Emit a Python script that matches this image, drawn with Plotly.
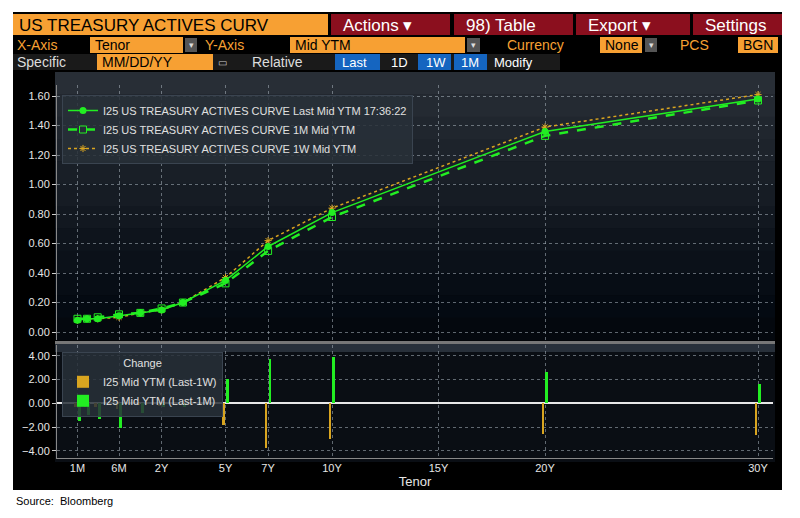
import numpy as np
import plotly.graph_objects as go

tenor_labels = ["1M", "2M", "3M", "6M", "1Y", "2Y", "3Y", "5Y", "7Y", "10Y", "20Y", "30Y"]
tenor_years = [1/12, 2/12, 3/12, 0.5, 1, 2, 3, 5, 7, 10, 20, 30]
last_ytm = [0.08, 0.09, 0.09, 0.11, 0.13, 0.15, 0.20, 0.35, 0.58, 0.81, 1.36, 1.58]
m1_ytm = [0.09, 0.09, 0.10, 0.12, 0.13, 0.16, 0.20, 0.33, 0.55, 0.78, 1.33, 1.57]
w1_ytm = [0.08, 0.09, 0.09, 0.10, 0.13, 0.15, 0.20, 0.37, 0.62, 0.84, 1.39, 1.61]
chg_1w = [-0.3, -0.3, -0.3, -0.5, -0.1, -0.2, -0.1, -1.8, -3.8, -3.0, -2.6, -2.7]
chg_1m = [-1.5, -1.0, -1.3, -2.1, -0.8, -0.3, -0.3, 2.0, 3.7, 3.9, 2.6, 1.6]
axis_tick_labels = ["1M", "6M", "2Y", "5Y", "7Y", "10Y", "15Y", "20Y", "30Y"]
axis_tick_years = [1/12, 0.5, 2, 5, 7, 10, 15, 20, 30]

# Bloomberg-style tenor scale: compressed short end, linear beyond 1Y
knot_t = [1/12, 2/12, 3/12, 0.5, 1, 40]
knot_u = [-1.95, -1.5, -1.0, 0.0, 1.0, 40.0]
def scale(t):
    return list(np.interp(t, knot_t, knot_u))

xs = scale(tenor_years)
tick_u = scale(axis_tick_years)

W, H = 800, 518
OFF = 8  # page body margin
def px(x): return (x - OFF) / W
def py(y): return 1 - (y - OFF) / H

GREEN = "#22ee22"
ORANGE = "#d9a520"
fig = go.Figure()

fig.add_trace(go.Scatter(x=xs, y=w1_ytm, mode="lines+markers", name="I25 US TREASURY ACTIVES CURVE 1W Mid YTM",
                         line=dict(color=ORANGE, width=1.5, dash="dot"), marker=dict(symbol="asterisk", size=6, color=ORANGE, line=dict(color=ORANGE, width=1)),
                         legend="legend", legendrank=3))
fig.add_trace(go.Scatter(x=xs, y=m1_ytm, mode="lines+markers", name="I25 US TREASURY ACTIVES CURVE 1M Mid YTM",
                         line=dict(color=GREEN, width=2.5, dash="dash"), marker=dict(symbol="square-open", size=7, color=GREEN),
                         legend="legend", legendrank=2))
fig.add_trace(go.Scatter(x=xs, y=last_ytm, mode="lines+markers", name="I25 US TREASURY ACTIVES CURVE Last Mid YTM 17:36:22",
                         line=dict(color=GREEN, width=1.5), marker=dict(symbol="circle", size=7, color=GREEN),
                         legend="legend", legendrank=1))

fig.add_trace(go.Bar(x=xs, y=chg_1w, name="I25 Mid YTM (Last-1W)", marker=dict(color=ORANGE, line=dict(width=0)),
                     width=0.13, offset=-0.16, xaxis="x2", yaxis="y2", legend="legend2", legendrank=1))
fig.add_trace(go.Bar(x=xs, y=chg_1m, name="I25 Mid YTM (Last-1M)", marker=dict(color=GREEN, line=dict(width=0)),
                     width=0.13, offset=0.02, xaxis="x2", yaxis="y2", legend="legend2", legendrank=2))

u0 = (57 - 119) / 21.3
u1 = (773 - 119) / 21.3
grid = dict(showgrid=True, gridcolor="rgba(170,180,190,0.55)", griddash="dot", gridwidth=1)
fontc = dict(family="Liberation Sans Narrow, Liberation Sans, Arial", color="#e6e6e6", size=11)

fig.update_layout(
    width=W, height=H, margin=dict(l=0, r=0, t=0, b=0),
    paper_bgcolor="white", plot_bgcolor="rgba(0,0,0,0)",
    barmode="overlay", bargap=0,
    font=fontc,
    xaxis=dict(domain=[px(57), px(773)], range=[u0, u1], anchor="y", tickvals=tick_u, showticklabels=False,
               ticks="", zeroline=False, showline=False, **grid),
    yaxis=dict(domain=[py(340), py(85)], range=[-0.054, 1.675], tickvals=[0, 0.2, 0.4, 0.6, 0.8, 1.0, 1.2, 1.4, 1.6],
               tickformat=".2f", ticks="outside", ticklen=4, tickcolor="#ccc", zeroline=False,
               showline=True, linecolor="#888", tickfont=dict(color="#e6e6e6", size=11), **grid),
    xaxis2=dict(domain=[px(57), px(773)], range=[u0, u1], anchor="y2", tickvals=tick_u, ticktext=axis_tick_labels,
                ticks="", tickfont=dict(color="#e6e6e6", size=11), zeroline=False, showline=True, linecolor="#888",
                title=dict(text="Tenor", font=dict(color="#e6e6e6", size=13), standoff=2), **grid),
    yaxis2=dict(domain=[py(458), py(345)], range=[-4.6, 4.9], tickvals=[-4, -2, 0, 2, 4], tickformat=".2f",
                ticks="outside", ticklen=4, tickcolor="#ccc", zeroline=True, zerolinecolor="#e8e8e8", zerolinewidth=2,
                showline=True, linecolor="#888", tickfont=dict(color="#e6e6e6", size=11), **grid),
    legend=dict(x=px(62), y=py(95), xanchor="left", yanchor="top", bgcolor="rgba(40,48,56,0.85)",
                bordercolor="#3a4450", borderwidth=1, font=dict(size=11, color="#e0e0e0"), tracegroupgap=0, itemwidth=30),
    legend2=dict(x=px(62), y=py(352), xanchor="left", yanchor="top", bgcolor="rgba(40,48,56,0.85)",
                 bordercolor="#3a4450", borderwidth=1, font=dict(size=11, color="#e0e0e0"),
                 title=dict(text="Change", side="top center", font=dict(size=11, color="#e0e0e0")), itemwidth=30),
    showlegend=True,
)

shapes = []
def rect(x0, y0, x1, y1, color, layer="below", line=None):
    shapes.append(dict(type="rect", xref="paper", yref="paper", x0=px(x0), x1=px(x1), y0=py(y1), y1=py(y0),
                       fillcolor=color, line=line or dict(width=0), layer=layer))

# terminal background
rect(13, 12, 782, 490, "#000000")
# plot panel gradient
steps = 12
for i in range(steps):
    y0 = 72 + i * (268 / steps)
    c = int(48 - i * 3.6)
    rect(55, y0, 775, y0 + 268 / steps + 0.5, f"rgb({max(c-8,4)},{max(c-2,8)},{c+6})")
rect(55, 341, 775, 344, "#777777")
rect(55, 344, 775, 352, "rgb(40,48,58)")
rect(55, 352, 775, 462, "rgb(10,14,20)")

annotations = []
def txt(x, y, s, color="#ffffff", size=13, anchor="left", bold=False):
    annotations.append(dict(x=px(x), y=py(y), xref="paper", yref="paper", text=(f"<b>{s}</b>" if bold else s),
                            showarrow=False, xanchor=anchor, yanchor="middle",
                            font=dict(color=color, size=size, family="Liberation Sans Narrow, Liberation Sans, Arial")))

# header row 1
rect(13, 14, 328, 35, "#f7a033")
txt(17, 25, "US TREASURY ACTIVES CURV", "#000000", 17)
for x0, x1, label in [(331, 450, "Actions ▾"), (454, 573, "98) Table"), (576, 690, "Export ▾"), (693, 782, "Settings")]:
    rect(x0, 14, x1, 35, "#8b0f1e")
    txt(x0 + 10, 25, label, "#ffffff", 17)

# row 2
txt(15, 45, "X-Axis", "#f7a033", 14)
rect(90, 37, 183, 53, "#f7a033"); txt(93, 45, "Tenor", "#000", 14)
rect(185, 38, 197, 52, "#555"); txt(191, 45, "▾", "#ddd", 9, "center")
txt(203, 45, "Y-Axis", "#f7a033", 14)
rect(290, 37, 465, 53, "#f7a033"); txt(293, 45, "Mid YTM", "#000", 14)
rect(467, 38, 480, 52, "#555"); txt(473, 45, "▾", "#ddd", 9, "center")
txt(505, 45, "Currency", "#f7a033", 14)
rect(600, 37, 642, 53, "#f7a033"); txt(603, 45, "None", "#000", 14)
rect(645, 38, 657, 52, "#555"); txt(651, 45, "▾", "#ddd", 9, "center")
txt(678, 45, "PCS", "#f7a033", 14)
rect(738, 37, 778, 53, "#f7a033"); txt(741, 45, "BGN", "#000", 14)

# row 3
rect(13, 54, 560, 70, "#1a1a1a")
txt(15, 62, "Specific", "#dddddd", 14)
rect(97, 54, 213, 70, "#f7a033"); txt(100, 62, "MM/DD/YY", "#000", 14)
txt(222, 62, "▭", "#ccc", 10, "center")
txt(250, 62, "Relative", "#dddddd", 14)
rect(335, 54, 380, 70, "#1565c0"); txt(340, 62, "Last", "#ffffff", 13)
txt(389, 62, "1D", "#ffffff", 13)
rect(418, 54, 451, 70, "#1565c0"); txt(424, 62, "1W", "#ffffff", 13)
rect(454, 54, 487, 70, "#1565c0"); txt(459, 62, "1M", "#ffffff", 13)
txt(492, 62, "Modify", "#ffffff", 13)

txt(14, 501, "Source:  Bloomberg", "#000000", 11)
annotations[-1]["font"]["family"] = "Liberation Sans, Arial"

fig.update_layout(shapes=shapes, annotations=annotations)
fig.write_html("out.html")
